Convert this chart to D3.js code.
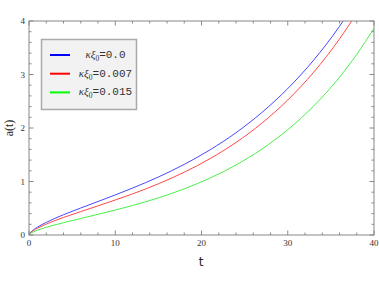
<!DOCTYPE html>
<html><head><meta charset="utf-8">
<script src="https://cdn.jsdelivr.net/npm/d3@7"></script>
<style>body{margin:0;background:#fff}svg{display:block}</style>
</head><body>
<svg id="c" width="379" height="285"></svg>
<script>
const tVals = [0, 0.2, 0.5, 1, 2, 3, 4, 6, 8, 10, 12, 15, 18, 21, 24, 27, 30, 33, 36, 38, 40];
const blueVals  = [0, 0.051, 0.094, 0.149, 0.236, 0.311, 0.379, 0.505, 0.626, 0.749, 0.877, 1.084, 1.320, 1.593, 1.912, 2.290, 2.737, 3.268, 3.900, 4.387, 4.9];
const redVals   = [0, 0.044, 0.081, 0.128, 0.204, 0.269, 0.328, 0.438, 0.545, 0.654, 0.768, 0.957, 1.174, 1.428, 1.730, 2.091, 2.523, 3.042, 3.665, 4.150, 4.7];
const greenVals = [0, 0.031, 0.057, 0.090, 0.144, 0.189, 0.231, 0.309, 0.387, 0.466, 0.551, 0.694, 0.863, 1.065, 1.309, 1.606, 1.968, 2.410, 2.950, 3.376, 3.864];
const seriesNames = ["0.0", "0.007", "0.015"];
const seriesColors = ["#4848ff", "#ff4848", "#48f048"];
const legendColors = ["#0000ff", "#ff0000", "#00ff00"];
const xTicks = [0, 10, 20, 30, 40];
const yTicks = [0, 1, 2, 3, 4];

const svg = d3.select("#c");
const L = 29, R = 374, T = 21, B = 235;
const x = d3.scaleLinear().domain([0, 40]).range([L, R]);
const y = d3.scaleLinear().domain([0, 4]).range([B, T]);
const axisColor = "#888";

svg.append("defs").append("clipPath").attr("id", "clip")
  .append("rect").attr("x", L).attr("y", T).attr("width", R - L).attr("height", B - T);

// curves
const series = [blueVals, redVals, greenVals];
const line = d3.line().x(d => x(d[0])).y(d => y(d[1])).curve(d3.curveMonotoneX);
const g = svg.append("g").attr("clip-path", "url(#clip)");
series.forEach((vals, i) => {
  g.append("path").datum(tVals.map((t, j) => [t, vals[j]]))
    .attr("d", line).attr("fill", "none")
    .attr("stroke", seriesColors[i]).attr("stroke-width", 1);
});

// frame
svg.append("rect").attr("x", L).attr("y", T).attr("width", R - L).attr("height", B - T)
  .attr("fill", "none").attr("stroke", axisColor).attr("stroke-width", 1);

// ticks
const xMinor = d3.range(0, 40.01, 2);
const yMinor = d3.range(0, 4.001, 0.2);
const tk = svg.append("g").attr("stroke", axisColor).attr("stroke-width", 1);
xMinor.forEach(v => {
  const major = Math.abs(v % 10) < 1e-6;
  const len = major ? 4.5 : 2.5;
  tk.append("line").attr("x1", x(v)).attr("x2", x(v)).attr("y1", B).attr("y2", B - len);
  tk.append("line").attr("x1", x(v)).attr("x2", x(v)).attr("y1", T).attr("y2", T + len);
});
yMinor.forEach(v => {
  const major = Math.abs(v - Math.round(v)) < 1e-6;
  const len = major ? 4.5 : 2.5;
  tk.append("line").attr("y1", y(v)).attr("y2", y(v)).attr("x1", L).attr("x2", L + len);
  tk.append("line").attr("y1", y(v)).attr("y2", y(v)).attr("x1", R).attr("x2", R - len);
});

// tick labels
const lab = svg.append("g").attr("font-family", "Liberation Serif, serif").attr("font-size", 9).attr("fill", "#333");
xTicks.forEach(v => lab.append("text").attr("x", x(v)).attr("y", B + 11).attr("text-anchor", "middle").text(v));
yTicks.forEach(v => lab.append("text").attr("x", L - 4).attr("y", y(v) + 3).attr("text-anchor", "end").text(v));

// axis titles
svg.append("text").attr("x", 201).attr("y", 266).attr("text-anchor", "middle")
  .attr("font-family", "DejaVu Sans, sans-serif").attr("font-size", 12).attr("fill", "#222").text("t");
svg.append("text").attr("transform", "translate(13,128) rotate(-90)").attr("text-anchor", "middle")
  .attr("font-family", "Liberation Serif, serif").attr("font-size", 12).attr("fill", "#222").text("a(t)");

// legend
const lg = svg.append("g");
lg.append("rect").attr("x", 41.5).attr("y", 39.5).attr("width", 95).attr("height", 70)
  .attr("fill", "#f2f2f2").attr("stroke", "#aaa").attr("stroke-width", 1.5);
seriesNames.forEach((n, i) => {
  const yy = 55 + i * 18.7;
  lg.append("line").attr("x1", 50).attr("x2", 70).attr("y1", yy).attr("y2", yy)
    .attr("stroke", legendColors[i]).attr("stroke-width", 2);
  const t = lg.append("text").attr("x", 105.5).attr("y", yy + 3).attr("text-anchor", "middle")
    .attr("font-size", 11).attr("fill", "#333");
  t.append("tspan").attr("font-family", "Liberation Serif, serif").attr("font-style", "italic").text("κξ");
  t.append("tspan").attr("font-family", "Liberation Serif, serif").attr("font-size", 7.5).attr("dy", 3).text("0");
  t.append("tspan").attr("font-family", "Liberation Mono, monospace").attr("dy", -3).text("=" + n);
});
</script>
</body></html>
